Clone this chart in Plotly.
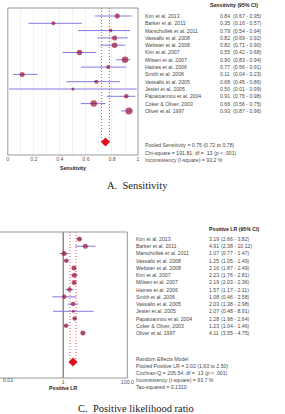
import plotly.graph_objects as go

W, H = 285, 414

# ---------------- data ----------------
studies_sens = ["Kim et al. 2013", "Barker et al. 2011", "Marschollek et al. 2011",
                "Vassallo et al. 2008", "Webster et al. 2008", "Kim et al. 2007",
                "Milisen et al. 2007", "Haines et al. 2006", "Smith et al. 2006",
                "Vassallo et al. 2005", "Jester et al. 2005", "Papaioannou et al. 2004",
                "Coker & Oliver, 2003", "Oliver et al. 1997"]
sens = [0.84, 0.35, 0.79, 0.82, 0.82, 0.55, 0.90, 0.77, 0.11, 0.68, 0.50, 0.91, 0.66, 0.93]
sens_lo = [0.67, 0.16, 0.54, 0.69, 0.71, 0.42, 0.83, 0.56, 0.04, 0.45, 0.01, 0.76, 0.56, 0.87]
sens_hi = [0.95, 0.57, 0.94, 0.92, 0.90, 0.68, 0.94, 0.91, 0.23, 0.86, 0.99, 0.98, 0.75, 0.96]
sens_w = [5, 4, 3.5, 5, 5.5, 5.5, 6.5, 4, 5, 4, 3, 4.5, 6.5, 7]
sens_pool, sens_pool_lo, sens_pool_hi = 0.75, 0.72, 0.78
sens_ticks = [0, 0.1, 0.2, 0.3, 0.4, 0.5, 0.6, 0.7, 0.8, 0.9, 1.0]
sens_ticktext = ["0", "", "0.2", "", "0.4", "", "0.6", "", "0.8", "", "1"]

studies_lr = ["Kim et al. 2013", "Barker et al. 2011", "Marschollek et al. 2011",
              "Vassallo et al. 2008", "Webster et al. 2008", "Kim et al. 2007",
              "Milisen et al. 2007", "Haines et al. 2006", "Smith et al. 2006",
              "Vassallo et al. 2005", "Jester et al. 2005", "Papaioannou et al. 2004",
              "Coker & Oliver, 2003", "Oliver et al. 1997"]
plr = [3.19, 4.91, 1.07, 1.25, 2.16, 2.23, 2.19, 1.57, 1.08, 2.03, 2.07, 2.28, 1.23, 4.11]
plr_lo = [2.66, 2.38, 0.77, 1.05, 1.87, 1.76, 2.03, 1.17, 0.46, 1.38, 0.48, 1.98, 1.04, 3.55]
plr_hi = [3.82, 10.12, 1.47, 1.49, 2.49, 2.81, 2.36, 2.11, 2.58, 2.98, 8.91, 2.64, 1.46, 4.75]
plr_w = [5, 5, 5, 4.5, 5, 5, 5, 4.5, 4.5, 4.5, 3, 4.5, 4.5, 5]
plr_pool, plr_pool_lo, plr_pool_hi = 2.02, 1.63, 2.50
plr_ticks = [1, 100]
plr_ticktext = ["1", "100.0"]

sens_summary = ["Pooled Sensitivity = 0.75 (0.72 to 0.78)",
                "Chi-square = 191.81; df =  13 (<i>p</i> < .001)",
                "Inconsistency (I-square) = 93.2 %"]
plr_summary = ["Random Effects Model",
               "Pooled Positive LR = 2.02 (1.63 to 2.50)",
               "Cochran-Q = 205.54; df =  13 (<i>p</i> < .001)",
               "Inconsistency (I-square) = 93.7 %",
               "Tau-squared = 0.1310"]

# ---------------- style ----------------
DOT = "#9c0f33"
CI = "#8478e6"
RED = "#ff4a4a"
TXT = "#4a4a4a"
FONT = "Liberation Sans, Arial, sans-serif"
FS = 5.2

def px(x):
    return x / W

def py(y):
    return 1 - y / H

# geometry (pixels)
top_y0, top_y1 = 8, 155
top_row0, top_dy = 16, 7.3
bot_y0, bot_y1 = 232, 378
bot_row0, bot_dy = 239, 7.23

def rows_range(y0, y1, r0, dy):
    return [(y1 - r0) / dy, (y0 - r0) / dy]

top_rng = rows_range(top_y0, top_y1, top_row0, top_dy)
bot_rng = rows_range(bot_y0, bot_y1, bot_row0, bot_dy)
sens_pool_row = (142 - top_row0) / top_dy
plr_pool_row = (362 - bot_row0) / bot_dy

fig = go.Figure()
n = len(studies_sens)
rows = list(range(n))

# ---- top: sensitivity ----
for lo in (sens_pool_lo, sens_pool_hi):
    fig.add_trace(go.Scatter(x=[lo, lo], y=[top_rng[1], sens_pool_row], mode="lines",
                             line=dict(color=RED, width=1, dash="1px,2px"),
                             xaxis="x", yaxis="y", showlegend=False))
for i in rows:
    fig.add_trace(go.Scatter(x=[sens_lo[i], sens_hi[i]], y=[i, i], mode="lines",
                             line=dict(color=CI, width=1), xaxis="x", yaxis="y",
                             showlegend=False, hoverinfo="skip"))
fig.add_trace(go.Scatter(x=sens, y=rows, mode="markers",
                         marker=dict(color=DOT, size=sens_w, line=dict(width=0)),
                         xaxis="x", yaxis="y", showlegend=False))
fig.add_trace(go.Scatter(x=[sens_pool], y=[sens_pool_row], mode="markers",
                         marker=dict(color="#de1020", size=7, symbol="diamond", line=dict(width=0)),
                         xaxis="x", yaxis="y", showlegend=False))

# ---- bottom: positive LR ----
for lo in (plr_pool_lo, plr_pool_hi):
    fig.add_trace(go.Scatter(x=[lo, lo], y=[bot_rng[1], plr_pool_row], mode="lines",
                             line=dict(color=RED, width=1, dash="1px,2px"),
                             xaxis="x2", yaxis="y2", showlegend=False))
fig.add_trace(go.Scatter(x=[1, 1], y=[bot_rng[0], bot_rng[1]], mode="lines",
                         line=dict(color="#555555", width=1),
                         xaxis="x2", yaxis="y2", showlegend=False))
for i in rows:
    fig.add_trace(go.Scatter(x=[plr_lo[i], plr_hi[i]], y=[i, i], mode="lines",
                             line=dict(color=CI, width=1), xaxis="x2", yaxis="y2",
                             showlegend=False, hoverinfo="skip"))
fig.add_trace(go.Scatter(x=plr, y=rows, mode="markers",
                         marker=dict(color=DOT, size=plr_w, line=dict(width=0)),
                         xaxis="x2", yaxis="y2", showlegend=False))
fig.add_trace(go.Scatter(x=[plr_pool], y=[plr_pool_row], mode="markers",
                         marker=dict(color="#de1020", size=7, symbol="diamond", line=dict(width=0)),
                         xaxis="x2", yaxis="y2", showlegend=False))

ann = []
def t(x, y, text, yref="paper", size=FS, bold=False, anchor="left", color=TXT, family=FONT):
    ann.append(dict(x=x, y=y, xref="paper", yref=yref, text=("<b>%s</b>" % text) if bold else text,
                    showarrow=False, xanchor=anchor, yanchor="middle",
                    font=dict(size=size, color=color, family=family)))

# top table
t(px(213), py(5), "Sensitivity (95% CI)", bold=True, color="#222")
for i in rows:
    t(px(146), i, studies_sens[i], yref="y")
    t(px(223), i, "%.2f" % sens[i], yref="y")
    t(px(237), i, "(%.2f - %.2f)" % (sens_lo[i], sens_hi[i]), yref="y")
for k, s in enumerate(sens_summary):
    t(px(146), py(145 + k * 7.5), s)
t(px(74), py(168), "Sensitivity", bold=True, anchor="center", color="#222")

# bottom table
t(px(212), py(229), "Positive LR (95% CI)", bold=True, color="#222")
for i in rows:
    t(px(137), i, studies_lr[i], yref="y2")
    t(px(212), i, "%.2f" % plr[i], yref="y2")
    t(px(224), i, "(%.2f - %.2f)" % (plr_lo[i], plr_hi[i]), yref="y2")
for k, s in enumerate(plr_summary):
    t(px(137), py(359 + k * 7.1), s)
t(px(0), py(380), "0.01", anchor="left", color="#555")
t(px(64), py(388), "Positive LR", bold=True, anchor="center", color="#222")

# captions
t(px(140), py(185), "A.  Sensitivity", size=10.5, anchor="center", color="#222",
  family="Liberation Serif, Times New Roman, serif")
t(px(139), py(408), "C.  Positive likelihood ratio", size=10.5, anchor="center", color="#222",
  family="Liberation Serif, Times New Roman, serif")

shapes = [
    dict(type="rect", xref="paper", yref="paper", x0=px(7), x1=px(141), y0=py(top_y1), y1=py(top_y0),
         line=dict(color="#999999", width=1)),
    dict(type="rect", xref="paper", yref="paper", x0=px(-3), x1=px(130), y0=py(bot_y1), y1=py(bot_y0),
         line=dict(color="#999999", width=1)),
]

fig.update_layout(
    width=W, height=H, margin=dict(l=0, r=0, t=0, b=0),
    paper_bgcolor="white", plot_bgcolor="white",
    font=dict(family=FONT, size=FS, color=TXT),
    annotations=ann, shapes=shapes,
    xaxis=dict(domain=[px(7), px(141)], range=[0, 1], tickvals=sens_ticks, ticktext=sens_ticktext,
               showgrid=True, gridcolor="#f2f2f2", gridwidth=1, zeroline=False, showline=False,
               ticks="", tickfont=dict(size=FS, color="#555"), anchor="y", fixedrange=True),
    yaxis=dict(domain=[py(top_y1), py(top_y0)], range=top_rng, showgrid=False, zeroline=False,
               showticklabels=False, showline=False, anchor="x"),
    xaxis2=dict(domain=[0, px(130)], type="log", range=[-64 / 33, 2], tickvals=plr_ticks,
                ticktext=plr_ticktext, showgrid=False, zeroline=False, showline=False, ticks="",
                tickfont=dict(size=FS, color="#555"), anchor="y2"),
    yaxis2=dict(domain=[py(bot_y1), py(bot_y0)], range=bot_rng, showgrid=False, zeroline=False,
                showticklabels=False, showline=False, anchor="x2"),
)

fig.write_html("out.html")
